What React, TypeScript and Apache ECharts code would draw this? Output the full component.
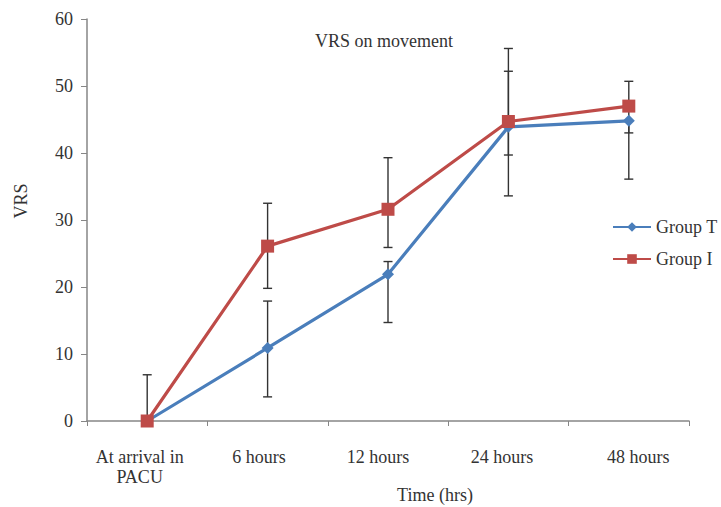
import React, { useEffect, useRef } from "react";
import * as echarts from "echarts";

const categories = ["At arrival in\nPACU", "6 hours", "12 hours", "24 hours", "48 hours"];
const groupT = [0, 10.9, 21.9, 43.9, 44.8];
const groupI = [0, 26.1, 31.6, 44.7, 47.0];
const groupTLow = [0, 3.6, 14.7, 39.7, 36.1];
const groupTHigh = [0, 17.9, 23.8, 52.2, 44.8];
const groupILow = [0, 19.8, 25.9, 33.6, 43.0];
const groupIHigh = [6.9, 32.5, 39.3, 55.6, 50.7];

const FONT = "Liberation Serif";
const FS = 18;
// horizontal nudges of each category label (style only)
const labelShift = [-7.5, -8.5, -10, -6.5, 9.5];

function errData(lo: number[], hi: number[]) {
  return lo.map((l, i) => [i, l, hi[i]]);
}

const renderErr = (params: any, api: any) => {
  const x = api.value(0);
  const p1 = api.coord([x, api.value(1)]);
  const p2 = api.coord([x, api.value(2)]);
  const hw = 4.5;
  const style = { stroke: "#333333", lineWidth: 1.4 };
  return {
    type: "group",
    children: [
      { type: "line", shape: { x1: p1[0], y1: p1[1], x2: p2[0], y2: p2[1] }, style },
      { type: "line", shape: { x1: p1[0] - hw, y1: p1[1], x2: p1[0] + hw, y2: p1[1] }, style },
      { type: "line", shape: { x1: p2[0] - hw, y1: p2[1], x2: p2[0] + hw, y2: p2[1] }, style },
    ],
  };
};

const rich: Record<string, any> = {};
labelShift.forEach((d, i) => {
  rich["s" + i] = {
    fontFamily: FONT,
    fontSize: FS,
    lineHeight: 20,
    color: "#333333",
    padding: d < 0 ? [0, -2 * d, 0, 0] : [0, 0, 0, 2 * d],
  };
});

export default function App() {
  const ref = useRef<HTMLDivElement>(null);
  useEffect(() => {
    document.body.style.margin = "0";
    const chart = echarts.init(ref.current!, null, { renderer: "svg" });
    chart.setOption({
      animation: false,
      backgroundColor: "#ffffff",
      title: {
        text: "VRS on movement",
        left: 310,
        top: 27,
        textStyle: { fontFamily: FONT, fontSize: FS, fontWeight: "normal", color: "#333333" },
      },
      legend: {
        orient: "vertical",
        left: 612,
        top: 218,
        padding: 0,
        itemWidth: 38,
        itemHeight: 12,
        itemGap: 14,
        data: ["Group T", "Group I"],
        textStyle: { fontFamily: FONT, fontSize: FS, color: "#333333" },
      },
      grid: { left: 87, right: 32, top: 19, bottom: 86, containLabel: false },
      xAxis: {
        type: "category",
        data: categories,
        axisLine: { lineStyle: { color: "#868686", width: 1.5 } },
        axisTick: { show: true, length: 5, lineStyle: { color: "#868686" } },
        axisLabel: {
          margin: 26,
          interval: 0,
          formatter: (value: string, index: number) =>
            value
              .split("\n")
              .map((l) => `{s${index}|${l}}`)
              .join("\n"),
          rich,
        },
      },
      yAxis: {
        type: "value",
        min: 0,
        max: 60,
        interval: 10,
        splitLine: { show: false },
        axisLine: { show: true, lineStyle: { color: "#868686", width: 1.5 } },
        axisTick: { show: true, length: 6, lineStyle: { color: "#868686" } },
        axisLabel: { margin: 14, fontFamily: FONT, fontSize: FS, color: "#333333" },
      },
      graphic: [
        {
          type: "text",
          x: 21,
          y: 201,
          rotation: Math.PI / 2,
          style: {
            text: "VRS",
            fontFamily: FONT,
            fontSize: FS,
            fill: "#333333",
            textAlign: "center",
            textVerticalAlign: "middle",
          },
        },
        {
          type: "text",
          x: 435,
          y: 495,
          style: {
            text: "Time (hrs)",
            fontFamily: FONT,
            fontSize: FS,
            fill: "#333333",
            textAlign: "center",
            textVerticalAlign: "middle",
          },
        },
      ],
      series: [
        {
          type: "custom",
          name: "errT",
          renderItem: renderErr,
          data: errData(groupTLow, groupTHigh),
          encode: { x: 0, y: [1, 2] },
          z: 1,
          silent: true,
        },
        {
          type: "custom",
          name: "errI",
          renderItem: renderErr,
          data: errData(groupILow, groupIHigh),
          encode: { x: 0, y: [1, 2] },
          z: 1,
          silent: true,
        },
        {
          name: "Group T",
          type: "line",
          data: groupT,
          symbol: "diamond",
          symbolSize: 12,
          color: "#4A7EBB",
          lineStyle: { width: 3.2, color: "#4A7EBB" },
          itemStyle: { color: "#4A7EBB" },
          z: 3,
        },
        {
          name: "Group I",
          type: "line",
          data: groupI,
          symbol: "rect",
          symbolSize: 13,
          color: "#BE4B48",
          lineStyle: { width: 3.2, color: "#BE4B48" },
          itemStyle: { color: "#BE4B48" },
          z: 4,
        },
      ],
    });
    return () => chart.dispose();
  }, []);
  return <div ref={ref} style={{ width: 721, height: 507 }} />;
}
